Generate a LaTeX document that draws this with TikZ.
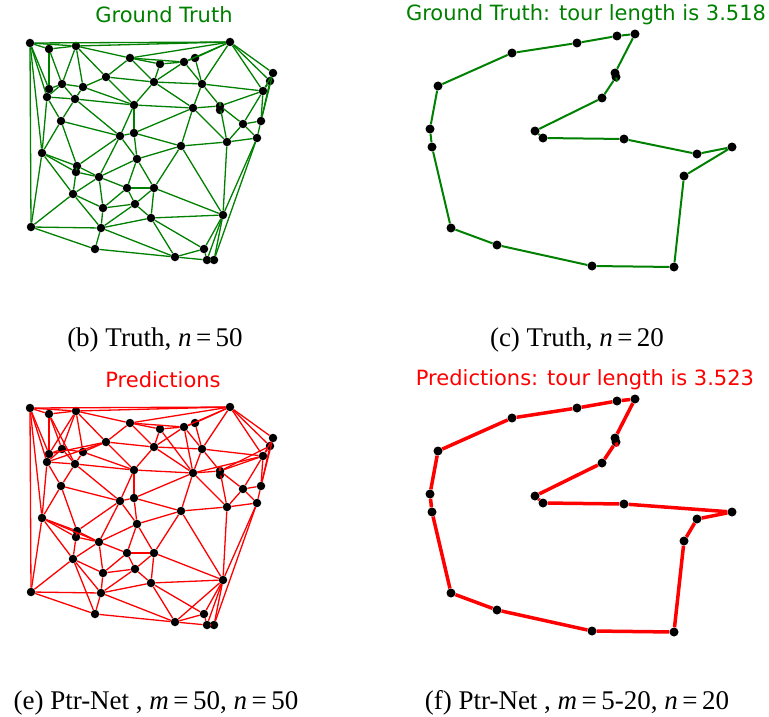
\documentclass[tikz,border=0pt]{standalone}
\usepackage{fontspec}
\setmainfont{Liberation Serif}
\newfontfamily\dejavu{DejaVu Sans}
\definecolor{mgreen}{RGB}{0,128,0}
\definecolor{mred}{RGB}{255,0,0}
\tikzset{
  dot/.style={circle, fill=black, inner sep=0pt, minimum size=8.5pt},
  tdot/.style={circle, fill=black, inner sep=0pt, minimum size=9pt},
  gedge/.style={line width=1.3pt},
  titletext/.style={font=\dejavu\fontsize{21}{25}\selectfont, inner sep=0pt},
  captext/.style={font=\fontsize{27}{32}\selectfont, inner sep=0pt},
}
\newcommand{\graphpoints}{%
  \foreach \i/\x/\y in {1/30/43, 2/49/49, 3/76/46, 4/130/58, 5/106/77, 6/62/84,
    7/49/89, 8/83/87, 9/47/97, 10/75/99, 11/154/82, 12/134/105, 13/61/121,
    14/120/136, 15/134/133, 16/42/153, 17/230/42, 18/160/64, 19/184/62,
    20/195/58, 21/273/73, 22/270/81, 23/202/84, 24/263/91, 25/193/108,
    26/220/106, 27/243/124, 28/261/121, 29/257/138, 30/227/142, 31/181/146,
    32/77/166, 33/76/172, 34/99/177, 35/137/159, 36/127/188, 37/154/188,
    38/73/194, 39/103/208, 40/135/204, 41/151/218, 42/31/227, 43/101/228,
    44/95/249, 45/223/215, 46/204/249, 47/175/257, 48/207/260, 49/214/260,
    50/220/110}
  {\node[dot] (p\i) at (\x,\y) {};}%
}
\newcommand{\edgelist}{1/2, 1/3, 1/17, 1/7, 1/9, 1/16, 1/42,
  2/3, 2/6, 2/7, 3/4, 3/5, 3/6, 3/8, 3/17, 4/5, 4/11, 4/17, 4/18, 4/19,
  5/8, 5/11, 5/12, 6/7, 6/8, 6/9, 6/10, 7/9, 8/10, 8/12, 9/10, 9/13, 9/16,
  10/12, 10/13, 10/14, 11/12, 11/18, 11/19, 11/23, 11/25, 12/14, 12/15, 12/25,
  13/14, 13/16, 13/32, 14/15, 14/32, 14/34, 14/35, 15/25, 15/31, 15/35,
  16/32, 16/33, 16/38, 16/42, 17/19, 17/20, 17/23, 17/24, 17/22, 17/21,
  18/19, 19/20, 19/23, 20/23, 21/22, 21/24, 21/28, 22/24, 22/28,
  23/24, 23/25, 23/26, 24/26, 24/27, 24/28, 25/26, 25/30, 25/31,
  26/27, 26/30, 26/50, 27/28, 27/29, 27/30, 28/29, 29/30, 29/45, 29/49,
  30/31, 30/45, 31/35, 31/37, 31/45, 32/33, 32/34, 33/34, 33/38,
  34/35, 34/36, 34/38, 34/39, 35/36, 35/37, 36/37, 36/39, 36/40,
  37/40, 37/41, 37/45, 38/39, 38/42, 38/43, 39/40, 39/43, 40/41, 40/43,
  41/43, 41/45, 41/46, 41/47, 42/43, 42/44, 43/44, 43/47, 44/47,
  45/46, 45/48, 45/49, 46/47, 46/48, 47/48, 48/49}
\newcommand{\extraedges}{5/7, 5/9, 2/10, 3/7, 18/25, 19/25, 24/25, 22/26,
  38/44, 45/47, 16/34}
\newcommand{\tourpoints}{%
  \foreach \i/\x/\y in {1/635/34, 2/617/36, 3/577/43, 4/512/53, 5/438/86,
    6/430/129, 7/432/147, 8/451/228, 9/497/245, 10/592/266, 11/674/267,
    12/684/176, 13/732/147, 14/697/154, 15/624/139, 16/543/138, 17/535/131,
    18/602/98, 19/615/73, 20/616/77}
  {\node[tdot] (t\i) at (\x,\y) {};}%
}
\begin{document}
\begin{tikzpicture}[x=1pt, y=-1pt]
\useasboundingbox (0,0) rectangle (769,717);
% ---- (b) ground truth graph
\begin{scope}[name prefix=g-]
  \graphpoints
  \foreach \a/\b in \edgelist {\draw[gedge, mgreen] (p\a) -- (p\b);}
\end{scope}
% ---- (e) predicted graph
\begin{scope}[name prefix=r-, yshift=-365pt]
  \graphpoints
  \foreach \a/\b in \edgelist {\draw[gedge, mred] (p\a) -- (p\b);}
  \foreach \a/\b in \extraedges {\draw[gedge, mred] (p\a) -- (p\b);}
\end{scope}
% ---- (c) ground truth tour
\begin{scope}[name prefix=gt-]
  \tourpoints
  \draw[mgreen, line width=2pt] (t1) -- (t2) -- (t3) -- (t4) -- (t5) -- (t6)
    -- (t7) -- (t8) -- (t9) -- (t10) -- (t11) -- (t12) -- (t13) -- (t14)
    -- (t15) -- (t16) -- (t17) -- (t18) -- (t20) -- (t19) -- (t1);
\end{scope}
% ---- (f) predicted tour
\begin{scope}[name prefix=rt-, yshift=-365pt]
  \tourpoints
  \draw[mred, line width=3.5pt] (t1) -- (t2) -- (t3) -- (t4) -- (t5) -- (t6)
    -- (t7) -- (t8) -- (t9) -- (t10) -- (t11) -- (t12) -- (t14) -- (t13)
    -- (t15) -- (t16) -- (t17) -- (t18) -- (t20) -- (t19) -- (t1);
\end{scope}
% ---- titles
\node[titletext, text=mgreen] (tb) at (164,15) {Ground Truth};
\node[titletext, text=mgreen] (tc) at (586,15) {Ground Truth: tour length is 3.518};
\node[titletext, text=mred] (te) at (163,380) {Predictions};
\node[titletext, text=mred] (tf) at (585,380) {Predictions: tour length is 3.523};
% ---- captions
\node[captext] (cb) at (155,340) {(b) Truth, \textit{n}\,=\,50};
\node[captext] (cc) at (577,340) {(c) Truth, \textit{n}\,=\,20};
\node[captext] (ce) at (156,703) {(e) Ptr-Net , \textit{m}\,=\,50, \textit{n}\,=\,50};
\node[captext] (cf) at (577,703) {(f) Ptr-Net , \textit{m}\,=\,5-20, \textit{n}\,=\,20};
\end{tikzpicture}
\end{document}
